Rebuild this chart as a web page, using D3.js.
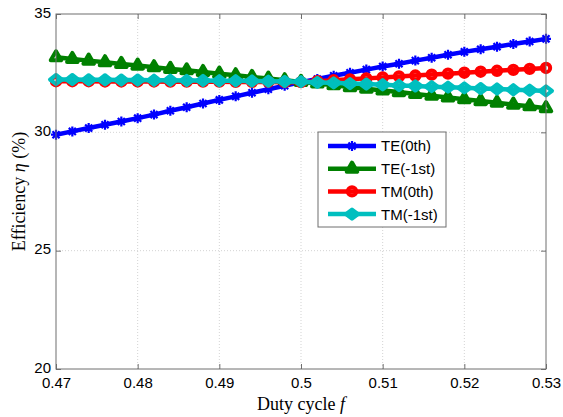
<!DOCTYPE html>
<meta charset="utf-8">
<script src="https://cdn.jsdelivr.net/npm/d3@7"></script>
<style>
body { margin: 0; background: #fff; }
.axis text { font-family: "Liberation Sans", Arial, sans-serif; font-size: 15px; fill: #000; }
.axis path { display: none; }
.axis line { stroke: #6e6e6e; }
.grid line { stroke: #c8c8c8; stroke-width: 0.8px; stroke-dasharray: 1,2; }
.title { font-family: "Liberation Serif", "Times New Roman", serif; font-size: 18px; fill: #000; }
.legend text { font-family: "Liberation Sans", Arial, sans-serif; font-size: 15px; fill: #000; }
</style>
<body>
<div id="chart"></div>
<script>
// duty cycle f, step 0.002
var duty = [0.470,0.472,0.474,0.476,0.478,0.480,0.482,0.484,0.486,0.488,
            0.490,0.492,0.494,0.496,0.498,0.500,0.502,0.504,0.506,0.508,
            0.510,0.512,0.514,0.516,0.518,0.520,0.522,0.524,0.526,0.528,0.530]

var teZero = [29.90,30.04,30.18,30.32,30.46,30.60,30.75,30.91,31.06,31.22,
              31.37,31.52,31.67,31.82,31.97,32.12,32.25,32.39,32.52,32.65,
              32.78,32.90,33.03,33.15,33.28,33.40,33.51,33.62,33.73,33.84,33.95]
var teMinus = [33.17,33.10,33.03,32.96,32.89,32.82,32.75,32.68,32.62,32.55,
               32.48,32.41,32.34,32.27,32.20,32.13,32.06,31.99,31.91,31.84,
               31.77,31.70,31.62,31.55,31.47,31.40,31.32,31.25,31.17,31.10,31.02]
var tmZero = [32.16,32.16,32.16,32.15,32.15,32.15,32.15,32.14,32.14,32.14,
              32.14,32.13,32.13,32.13,32.12,32.12,32.16,32.20,32.24,32.28,
              32.32,32.36,32.40,32.44,32.48,32.52,32.56,32.60,32.64,32.68,32.72]
var tmMinus = [32.23,32.23,32.22,32.22,32.21,32.21,32.20,32.20,32.19,32.19,
               32.18,32.18,32.17,32.16,32.15,32.14,32.11,32.09,32.06,32.04,
               32.01,31.98,31.96,31.93,31.91,31.88,31.85,31.83,31.80,31.78,31.75]

var seriesNames = ["TE(0th)", "TE(-1st)", "TM(0th)", "TM(-1st)"]
var seriesValues = [teZero, teMinus, tmZero, tmMinus]
var seriesColors = ["#0000ff", "#008000", "#ff0000", "#00bfbf"]
var seriesMarkers = ["star", "triangle", "circle", "diamond"]

var xTicks = [0.47, 0.48, 0.49, 0.50, 0.51, 0.52, 0.53]
var xTickLabels = ["0.47", "0.48", "0.49", "0.5", "0.51", "0.52", "0.53"]
var yTicks = [20, 25, 30, 35]

var W = 563, H = 417
var plot = {left: 56, right: 546, top: 14, bottom: 369}

var svg = d3.select("#chart").append("svg")
  .attr("width", W)
  .attr("height", H)

var xScale = d3.scaleLinear().domain([0.47, 0.53]).range([plot.left, plot.right])
var yScale = d3.scaleLinear().domain([20, 35]).range([plot.bottom, plot.top])

// grid
var grid = svg.append("g").attr("class", "grid")
grid.selectAll("line.gx")
  .data(xTicks.slice(1, -1))
  .enter().append("line")
  .attr("x1", d => xScale(d)).attr("x2", d => xScale(d))
  .attr("y1", plot.top).attr("y2", plot.bottom)
grid.selectAll("line.gy")
  .data(yTicks.slice(1, -1))
  .enter().append("line")
  .attr("y1", d => yScale(d)).attr("y2", d => yScale(d))
  .attr("x1", plot.left).attr("x2", plot.right)

// axes, ticks pointing inwards like matlab
var xAxis = d3.axisBottom(xScale).tickValues(xTicks)
  .tickFormat((d, i) => xTickLabels[i]).tickSizeInner(-5).tickPadding(8)
svg.append("g").attr("class", "axis")
  .attr("transform", "translate(0," + plot.bottom + ")")
  .call(xAxis)
svg.append("g").attr("class", "axis")
  .attr("transform", "translate(0," + plot.top + ")")
  .call(d3.axisTop(xScale).tickValues(xTicks).tickFormat("").tickSizeInner(-5))

var yAxis = d3.axisLeft(yScale).tickValues(yTicks).tickSizeInner(-5).tickPadding(5)
var yg = svg.append("g").attr("class", "axis")
  .attr("transform", "translate(" + plot.left + ",0)")
  .call(yAxis)
yg.selectAll("text").attr("dy", "0.22em")
svg.append("g").attr("class", "axis")
  .attr("transform", "translate(" + plot.right + ",0)")
  .call(d3.axisRight(yScale).tickValues(yTicks).tickFormat("").tickSizeInner(-5))

// symbols
function markerPath(type) {
  if (type == "star") {
    var r = 5, p = ""
    for (var a = 0; a < 4; a++) {
      var t = a * Math.PI / 4
      p += "M" + (-r * Math.cos(t)) + "," + (-r * Math.sin(t)) + "L" + (r * Math.cos(t)) + "," + (r * Math.sin(t))
    }
    return p
  }
  if (type == "triangle") return d3.symbol().type(d3.symbolTriangle).size(48)()
  if (type == "circle") return d3.symbol().type(d3.symbolCircle).size(55)()
  return "M-6,0L0,-4.6L6,0L0,4.6Z"
}

var line = d3.line()
  .x((d, i) => xScale(duty[i]))
  .y(d => yScale(d))

var lines = svg.append("g").attr("id", "lines")
seriesValues.forEach(function(vals, s) {
  var g = lines.append("g")
  g.append("path")
    .datum(vals)
    .attr("d", line)
    .attr("fill", "none")
    .attr("stroke", seriesColors[s])
    .attr("stroke-width", 4.5)
  g.selectAll("path.mk")
    .data(vals)
    .enter().append("path")
    .attr("class", "mk")
    .attr("d", markerPath(seriesMarkers[s]))
    .attr("transform", (d, i) => "translate(" + xScale(duty[i]) + "," + yScale(d) + ")")
    .attr("fill", "none")
    .attr("stroke", seriesColors[s])
    .attr("stroke-width", seriesMarkers[s] == "star" ? 2.2 : 4)
    .attr("stroke-linejoin", "round")
})

// box
svg.append("rect")
  .attr("x", plot.left).attr("y", plot.top)
  .attr("width", plot.right - plot.left).attr("height", plot.bottom - plot.top)
  .attr("fill", "none").attr("stroke", "#6e6e6e").attr("stroke-width", 1)

// legend
var legend = svg.append("g").attr("class", "legend")
  .attr("transform", "translate(318,132)")
legend.append("rect")
  .attr("width", 128).attr("height", 95)
  .attr("fill", "#fff").attr("stroke", "#6e6e6e").attr("stroke-width", 1)
var rows = legend.selectAll("g.row")
  .data(seriesNames)
  .enter().append("g")
  .attr("class", "row")
  .attr("transform", (d, i) => "translate(0," + (14 + i * 22.7) + ")")
rows.append("line")
  .attr("x1", 10).attr("x2", 58)
  .attr("stroke", (d, i) => seriesColors[i])
  .attr("stroke-width", 4.5)
rows.append("path")
  .attr("d", (d, i) => markerPath(seriesMarkers[i]))
  .attr("transform", "translate(34,0)")
  .attr("fill", "none")
  .attr("stroke", (d, i) => seriesColors[i])
  .attr("stroke-width", (d, i) => seriesMarkers[i] == "star" ? 2.2 : 4)
  .attr("stroke-linejoin", "round")
rows.append("text")
  .attr("x", 63).attr("dy", "0.36em")
  .text(d => d)

// axis titles
var xt = svg.append("text").attr("class", "title")
  .attr("x", (plot.left + plot.right) / 2).attr("y", 410)
  .attr("text-anchor", "middle")
xt.append("tspan").text("Duty cycle ")
xt.append("tspan").attr("font-style", "italic").text("f")

var yt = svg.append("text").attr("class", "title")
  .attr("transform", "translate(25," + ((plot.top + plot.bottom) / 2) + ") rotate(-90)")
  .attr("text-anchor", "middle")
yt.append("tspan").text("Efficiency ")
yt.append("tspan").attr("font-style", "italic").text("η")
yt.append("tspan").text(" (%)")
</script>
</body>
</html>
